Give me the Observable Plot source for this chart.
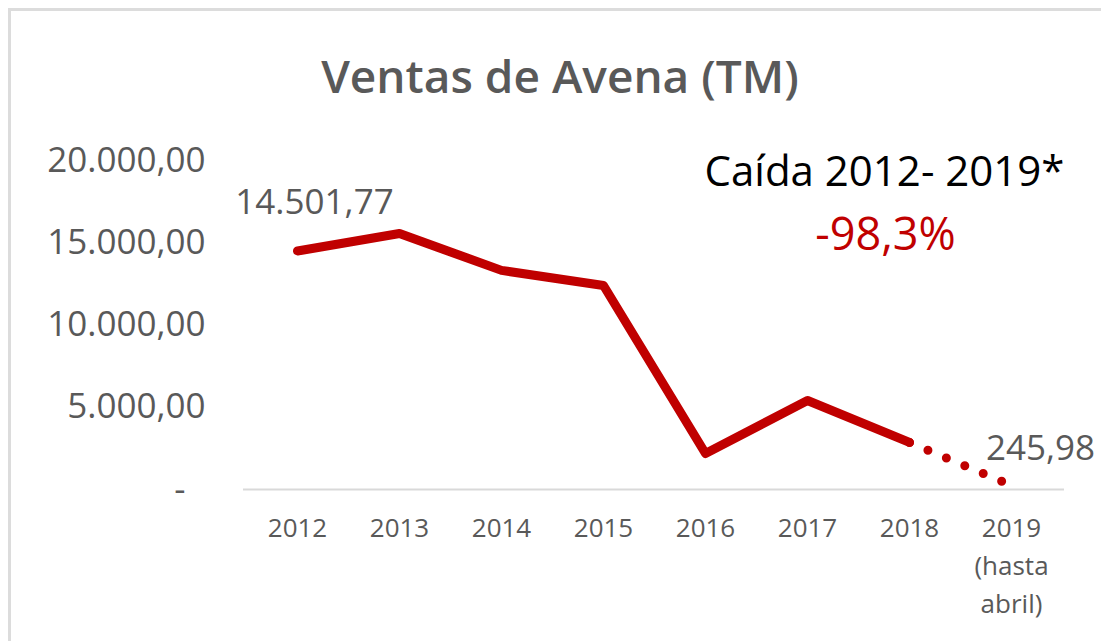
<!DOCTYPE html>
<html>
<head>
<meta charset="utf-8">
<script src="https://cdn.jsdelivr.net/npm/d3@7"></script>
<script src="https://cdn.jsdelivr.net/npm/@observablehq/plot@0.6"></script>
<style>
  html, body { margin: 0; padding: 0; background: #fff; }
  #wrap { position: relative; width: 1101px; height: 641px; overflow: hidden; background: #fff; font-family: 'Open Sans', sans-serif; }
  #frame { position: absolute; left: 8px; top: 8px; width: 1200px; height: 800px; border: 3px solid #dcdcdc; pointer-events: none; }
  #title { position: relative; height: 130px; }
  #title span { position: absolute; top: 52px; left: 0; width: 1120px; text-align: center; font-size: 46px; line-height: 46px; font-weight: 600; color: #595959; white-space: nowrap; }
</style>
</head>
<body>
<div id="wrap">
  <div id="title"><span>Ventas de Avena (TM)</span></div>
  <div id="chart"></div>
  <div id="frame"></div>
</div>
<script>
const years = ["2012", "2013", "2014", "2015", "2016", "2017", "2018", "2019"];
const yearLabels = ["2012", "2013", "2014", "2015", "2016", "2017", "2018", "2019\n(hasta\nabril)"];
const ventas = [14501.77, 15560, 13320, 12400, 2190, 5410, 2860, 245.98];
const yTicks = [0, 5000, 10000, 15000, 20000];
const annotationTitle = "Caída 2012- 2019*";
const annotationValue = "-98,3%";

const locale = d3.formatLocale({decimal: ",", thousands: ".", grouping: [3], currency: ["", ""]});
const fmt = locale.format(",.2f");

const rows = years.map((y, i) => ({year: y, value: ventas[i]}));
const solid = rows.slice(0, 7);
const dotted = rows.slice(6);
const firstRow = [rows[0]];
const lastRow = [rows[rows.length - 1]];
const tickLabel = new Map(years.map((y, i) => [y, yearLabels[i]]));

const red = "#C00000";

const chart = Plot.plot({
  width: 1101,
  height: 511,
  marginTop: 30,
  marginBottom: 152,
  marginLeft: 243,
  marginRight: 37,
  style: {fontFamily: "'Open Sans', sans-serif", color: "#595959", background: "transparent", overflow: "visible"},
  x: {type: "point", domain: years, padding: 0.5, axis: null, label: null},
  y: {domain: [0, 20000], axis: null, label: null},
  marks: [
    Plot.ruleY([0], {stroke: "#d9d9d9", strokeWidth: 2}),
    Plot.axisY({ticks: yTicks, tickSize: 0, tickPadding: 38, fontSize: 35, fill: "#595959", label: null,
      tickFormat: d => d === 0 ? "-\u2007" : fmt(d)}),
    Plot.axisX({tickSize: 0, tickPadding: 21, fontSize: 26, lineHeight: 1.45, fill: "#595959", label: null,
      tickFormat: d => tickLabel.get(d), lineAnchor: "top"}),
    Plot.line(solid, {x: "year", y: "value", stroke: red, strokeWidth: 9, strokeLinejoin: "round", strokeLinecap: "round"}),
    Plot.line(dotted, {x: "year", y: "value", stroke: red, strokeWidth: 9, strokeLinecap: "round", strokeDasharray: "0 20", strokeDashoffset: -20}),
    Plot.text(firstRow, {x: "year", y: "value", text: d => fmt(d.value), fontSize: 35, fill: "#595959", dx: 17, dy: -48}),
    Plot.text(lastRow, {x: "year", y: "value", text: d => fmt(d.value), fontSize: 35, fill: "#595959", dx: 29, dy: -37}),
    Plot.text([annotationTitle], {text: d => d, frameAnchor: "top-right", textAnchor: "end", lineAnchor: "middle", dy: 12, fontSize: 42, fill: "#000"}),
    Plot.text([annotationValue], {text: d => d, frameAnchor: "top-right", textAnchor: "middle", lineAnchor: "middle", dx: -179, dy: 75, fontSize: 45, fill: red})
  ]
});
document.getElementById("chart").appendChild(chart);
</script>
</body>
</html>
